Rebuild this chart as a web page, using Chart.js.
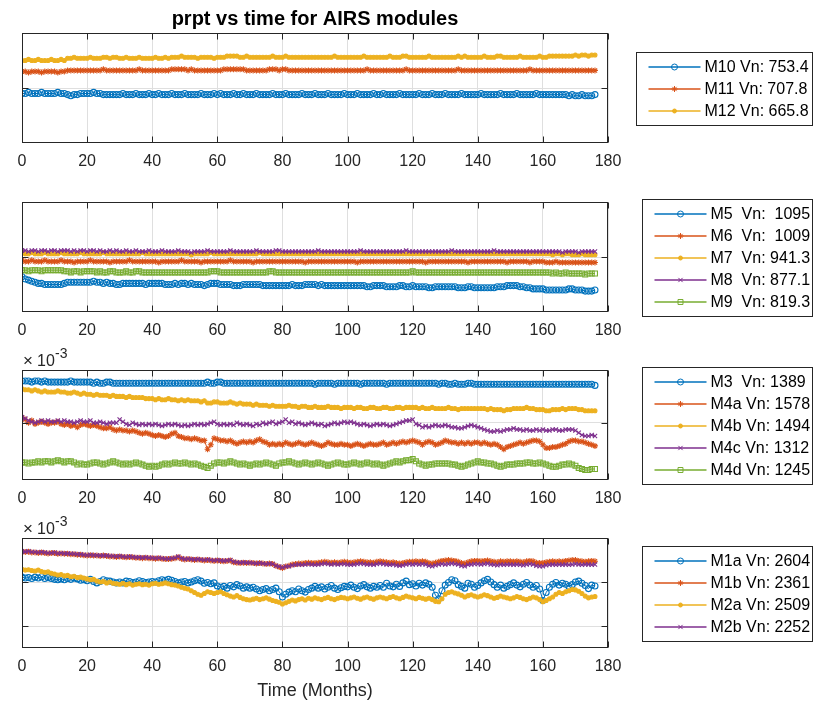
<!DOCTYPE html>
<html>
<head>
<meta charset="utf-8">
<title>prpt vs time for AIRS modules</title>
<script src="https://cdn.jsdelivr.net/npm/chart.js@4"></script>
<style>
  html, body { margin: 0; padding: 0; background: #fff; }
  #fig { position: relative; width: 815px; height: 704px; }
  #fig canvas { position: absolute; left: 0; top: 0; }
</style>
</head>
<body>
<div id="fig">
  <canvas id="p1" width="815" height="704"></canvas>
  <canvas id="p2" width="815" height="704"></canvas>
  <canvas id="p3" width="815" height="704"></canvas>
  <canvas id="p4" width="815" height="704"></canvas>
</div>
<script>
// Месяцы (ось X) и деления
const months = Array.from({ length: 177 }, (_, i) => i);
const xTicks = [0, 20, 40, 60, 80, 100, 120, 140, 160, 180];

// --- Панель 1: M10..M12 ---
const p1Names = ['M10 Vn: 753.4', 'M11 Vn: 707.8', 'M12 Vn: 665.8'];
const m10 = [
  0.95,0.95,0.96,0.95,0.95,0.95,0.96,0.95,0.95,0.95,
  0.95,0.96,0.95,0.95,0.94,0.93,0.94,0.94,0.95,0.95,
  0.95,0.95,0.96,0.95,0.95,0.94,0.94,0.94,0.94,0.94,
  0.94,0.95,0.94,0.94,0.94,0.95,0.94,0.94,0.94,0.95,
  0.94,0.94,0.95,0.94,0.94,0.94,0.95,0.94,0.94,0.94,
  0.95,0.94,0.94,0.94,0.94,0.95,0.94,0.94,0.94,0.95,
  0.94,0.95,0.94,0.94,0.94,0.95,0.94,0.94,0.95,0.94,
  0.94,0.94,0.95,0.94,0.94,0.94,0.94,0.95,0.94,0.94,
  0.94,0.95,0.94,0.94,0.94,0.94,0.95,0.94,0.94,0.94,
  0.95,0.94,0.94,0.94,0.95,0.94,0.94,0.94,0.94,0.95,
  0.94,0.94,0.94,0.95,0.94,0.94,0.94,0.94,0.95,0.94,
  0.94,0.95,0.94,0.94,0.94,0.94,0.95,0.94,0.94,0.94,
  0.94,0.94,0.95,0.94,0.94,0.94,0.95,0.94,0.94,0.94,
  0.95,0.94,0.94,0.94,0.94,0.95,0.94,0.94,0.94,0.94,
  0.94,0.95,0.94,0.94,0.94,0.94,0.94,0.95,0.94,0.94,
  0.94,0.94,0.95,0.94,0.94,0.94,0.94,0.94,0.95,0.94,
  0.94,0.94,0.94,0.94,0.94,0.94,0.94,0.94,0.93,0.94,
  0.93,0.93,0.94,0.93,0.93,0.93,0.94];
const m11 = [
  1.15,1.15,1.14,1.15,1.15,1.15,1.14,1.15,1.15,1.15,
  1.15,1.14,1.15,1.15,1.16,1.16,1.16,1.16,1.16,1.16,
  1.16,1.16,1.16,1.16,1.16,1.17,1.16,1.16,1.16,1.16,
  1.16,1.16,1.16,1.16,1.16,1.16,1.17,1.16,1.16,1.16,
  1.16,1.16,1.16,1.16,1.16,1.16,1.17,1.17,1.17,1.17,
  1.17,1.16,1.17,1.16,1.16,1.16,1.16,1.16,1.16,1.16,
  1.16,1.16,1.17,1.17,1.17,1.17,1.17,1.17,1.17,1.16,
  1.16,1.16,1.16,1.16,1.16,1.16,1.17,1.17,1.17,1.16,
  1.17,1.17,1.16,1.16,1.16,1.16,1.16,1.16,1.16,1.16,
  1.16,1.16,1.16,1.16,1.16,1.16,1.16,1.16,1.16,1.16,
  1.16,1.16,1.16,1.16,1.16,1.16,1.17,1.16,1.16,1.16,
  1.16,1.16,1.16,1.16,1.16,1.16,1.16,1.16,1.17,1.16,
  1.16,1.16,1.16,1.16,1.16,1.16,1.16,1.16,1.16,1.16,
  1.16,1.16,1.16,1.16,1.17,1.16,1.16,1.16,1.16,1.16,
  1.16,1.16,1.16,1.16,1.16,1.16,1.16,1.16,1.16,1.16,
  1.16,1.16,1.16,1.16,1.16,1.16,1.17,1.16,1.16,1.16,
  1.16,1.16,1.16,1.16,1.16,1.16,1.16,1.16,1.16,1.16,
  1.16,1.16,1.16,1.16,1.16,1.16,1.16];
const m12 = [
  1.25,1.25,1.26,1.25,1.25,1.26,1.25,1.25,1.25,1.26,
  1.25,1.25,1.26,1.25,1.27,1.27,1.28,1.27,1.27,1.27,
  1.27,1.28,1.27,1.27,1.27,1.28,1.28,1.27,1.28,1.28,
  1.27,1.27,1.28,1.27,1.27,1.27,1.28,1.27,1.27,1.27,
  1.27,1.28,1.27,1.27,1.28,1.27,1.28,1.28,1.28,1.29,
  1.28,1.28,1.28,1.28,1.27,1.28,1.28,1.28,1.28,1.27,
  1.28,1.28,1.28,1.29,1.29,1.29,1.29,1.28,1.28,1.29,
  1.28,1.28,1.28,1.28,1.28,1.28,1.28,1.29,1.28,1.28,
  1.28,1.29,1.28,1.28,1.28,1.28,1.28,1.28,1.28,1.28,
  1.28,1.28,1.28,1.28,1.28,1.28,1.29,1.28,1.28,1.28,
  1.28,1.28,1.28,1.28,1.28,1.29,1.28,1.28,1.28,1.28,
  1.28,1.28,1.28,1.29,1.28,1.28,1.28,1.29,1.29,1.28,
  1.28,1.28,1.28,1.28,1.28,1.29,1.28,1.28,1.28,1.28,
  1.28,1.28,1.28,1.28,1.29,1.28,1.29,1.28,1.28,1.28,
  1.28,1.28,1.29,1.28,1.28,1.28,1.29,1.29,1.28,1.28,
  1.28,1.28,1.28,1.29,1.28,1.28,1.28,1.28,1.28,1.29,
  1.28,1.28,1.29,1.29,1.29,1.29,1.29,1.29,1.29,1.29,
  1.30,1.29,1.30,1.30,1.29,1.30,1.30];

// --- Панель 2: M5..M9 ---
const p2Names = ['M5  Vn:  1095', 'M6  Vn:  1009', 'M7  Vn: 941.3', 'M8  Vn: 877.1', 'M9  Vn: 819.3'];
const m5 = [
  0.82,0.80,0.79,0.78,0.77,0.76,0.76,0.75,0.75,0.75,
  0.75,0.75,0.75,0.76,0.77,0.77,0.77,0.77,0.77,0.77,
  0.77,0.77,0.78,0.77,0.77,0.76,0.77,0.76,0.76,0.75,
  0.75,0.76,0.76,0.76,0.76,0.76,0.76,0.76,0.75,0.76,
  0.76,0.76,0.76,0.76,0.75,0.75,0.75,0.76,0.75,0.76,
  0.76,0.75,0.76,0.75,0.75,0.75,0.74,0.75,0.76,0.76,
  0.76,0.75,0.75,0.75,0.75,0.74,0.74,0.74,0.75,0.75,
  0.75,0.75,0.75,0.75,0.74,0.74,0.74,0.74,0.74,0.74,
  0.74,0.74,0.74,0.75,0.74,0.74,0.74,0.75,0.75,0.75,
  0.75,0.74,0.75,0.74,0.74,0.74,0.74,0.74,0.74,0.74,
  0.74,0.74,0.74,0.74,0.74,0.74,0.73,0.73,0.74,0.74,
  0.74,0.74,0.73,0.73,0.73,0.73,0.74,0.74,0.73,0.73,
  0.74,0.73,0.73,0.73,0.73,0.72,0.72,0.73,0.73,0.73,
  0.73,0.73,0.73,0.73,0.72,0.72,0.72,0.73,0.73,0.72,
  0.72,0.72,0.72,0.72,0.72,0.72,0.73,0.73,0.73,0.74,
  0.74,0.74,0.74,0.73,0.73,0.72,0.72,0.71,0.71,0.71,
  0.71,0.70,0.70,0.70,0.70,0.70,0.70,0.70,0.71,0.71,
  0.70,0.70,0.70,0.69,0.69,0.69,0.70];
const m6 = [
  0.97,0.96,0.96,0.97,0.96,0.96,0.96,0.97,0.96,0.96,
  0.96,0.96,0.97,0.96,0.96,0.96,0.95,0.96,0.96,0.96,
  0.96,0.97,0.96,0.96,0.96,0.96,0.96,0.95,0.96,0.96,
  0.96,0.96,0.96,0.97,0.96,0.96,0.96,0.96,0.96,0.96,
  0.96,0.96,0.95,0.96,0.96,0.96,0.96,0.96,0.96,0.97,
  0.96,0.96,0.96,0.96,0.96,0.95,0.96,0.96,0.96,0.96,
  0.96,0.96,0.96,0.96,0.97,0.96,0.96,0.96,0.96,0.96,
  0.96,0.95,0.96,0.96,0.96,0.96,0.96,0.96,0.96,0.96,
  0.96,0.96,0.96,0.96,0.96,0.96,0.96,0.95,0.96,0.96,
  0.96,0.96,0.96,0.96,0.96,0.96,0.96,0.96,0.96,0.96,
  0.96,0.96,0.96,0.95,0.96,0.96,0.96,0.96,0.96,0.96,
  0.96,0.96,0.96,0.96,0.96,0.96,0.96,0.96,0.96,0.96,
  0.96,0.96,0.96,0.96,0.95,0.96,0.96,0.96,0.96,0.96,
  0.96,0.96,0.96,0.96,0.96,0.96,0.96,0.95,0.96,0.96,
  0.96,0.96,0.96,0.96,0.96,0.96,0.96,0.96,0.96,0.95,
  0.96,0.96,0.96,0.96,0.96,0.96,0.95,0.96,0.96,0.96,
  0.96,0.95,0.95,0.95,0.96,0.95,0.95,0.95,0.95,0.95,
  0.95,0.95,0.95,0.95,0.95,0.95,0.95];
const m7 = [
  1.04,1.03,1.03,1.04,1.03,1.03,1.03,1.04,1.03,1.03,
  1.03,1.03,1.04,1.03,1.03,1.03,1.03,1.03,1.04,1.03,
  1.03,1.03,1.03,1.03,1.03,1.04,1.03,1.03,1.03,1.03,
  1.03,1.03,1.03,1.03,1.03,1.03,1.03,1.04,1.03,1.03,
  1.03,1.03,1.03,1.03,1.03,1.03,1.03,1.03,1.03,1.03,
  1.03,1.03,1.02,1.03,1.03,1.03,1.03,1.03,1.04,1.03,
  1.03,1.03,1.03,1.03,1.03,1.03,1.03,1.03,1.03,1.03,
  1.03,1.03,1.03,1.04,1.03,1.03,1.03,1.03,1.03,1.03,
  1.03,1.03,1.03,1.03,1.03,1.03,1.03,1.03,1.03,1.03,
  1.03,1.03,1.03,1.03,1.03,1.03,1.03,1.03,1.03,1.03,
  1.03,1.03,1.03,1.03,1.03,1.03,1.03,1.03,1.03,1.03,
  1.03,1.03,1.03,1.03,1.03,1.03,1.03,1.03,1.03,1.03,
  1.03,1.03,1.03,1.03,1.03,1.03,1.03,1.03,1.03,1.03,
  1.03,1.03,1.03,1.03,1.03,1.03,1.03,1.03,1.03,1.03,
  1.03,1.03,1.03,1.03,1.03,1.03,1.03,1.03,1.03,1.03,
  1.03,1.03,1.03,1.03,1.03,1.03,1.03,1.03,1.03,1.03,
  1.03,1.03,1.03,1.02,1.03,1.03,1.02,1.03,1.03,1.02,
  1.02,1.02,1.03,1.02,1.02,1.02,1.02];
const m8 = [
  1.06,1.06,1.05,1.06,1.06,1.05,1.06,1.06,1.05,1.06,
  1.06,1.05,1.06,1.06,1.06,1.05,1.06,1.05,1.06,1.06,
  1.05,1.06,1.06,1.05,1.06,1.05,1.05,1.06,1.05,1.06,
  1.05,1.05,1.06,1.05,1.05,1.06,1.05,1.05,1.05,1.06,
  1.05,1.05,1.05,1.06,1.05,1.05,1.05,1.05,1.06,1.05,
  1.05,1.05,1.04,1.05,1.05,1.05,1.05,1.06,1.05,1.05,
  1.05,1.05,1.05,1.05,1.06,1.05,1.05,1.05,1.05,1.05,
  1.05,1.05,1.06,1.05,1.05,1.05,1.05,1.05,1.06,1.06,
  1.05,1.05,1.05,1.05,1.05,1.05,1.05,1.05,1.05,1.05,
  1.05,1.06,1.05,1.05,1.05,1.05,1.05,1.05,1.05,1.05,
  1.05,1.05,1.05,1.05,1.06,1.05,1.05,1.05,1.05,1.05,
  1.05,1.05,1.05,1.05,1.05,1.05,1.05,1.05,1.06,1.05,
  1.05,1.05,1.05,1.05,1.05,1.05,1.05,1.05,1.05,1.05,
  1.05,1.05,1.06,1.05,1.05,1.05,1.05,1.05,1.05,1.05,
  1.05,1.05,1.05,1.05,1.05,1.06,1.05,1.05,1.05,1.05,
  1.05,1.05,1.05,1.05,1.05,1.05,1.05,1.05,1.05,1.05,
  1.05,1.05,1.05,1.05,1.05,1.05,1.04,1.05,1.05,1.05,
  1.05,1.04,1.05,1.05,1.05,1.05,1.05];
const m9 = [
  0.88,0.88,0.87,0.88,0.88,0.88,0.87,0.88,0.88,0.88,
  0.88,0.88,0.88,0.87,0.87,0.86,0.87,0.87,0.86,0.87,
  0.87,0.87,0.87,0.86,0.87,0.86,0.86,0.87,0.87,0.86,
  0.86,0.86,0.87,0.86,0.86,0.87,0.87,0.86,0.86,0.86,
  0.86,0.86,0.86,0.86,0.86,0.86,0.86,0.86,0.86,0.86,
  0.86,0.86,0.86,0.86,0.86,0.86,0.86,0.86,0.87,0.87,
  0.87,0.86,0.86,0.86,0.86,0.86,0.86,0.86,0.86,0.86,
  0.86,0.86,0.86,0.86,0.86,0.86,0.87,0.87,0.86,0.86,
  0.86,0.86,0.86,0.86,0.86,0.86,0.86,0.86,0.86,0.86,
  0.86,0.86,0.86,0.86,0.86,0.86,0.86,0.86,0.86,0.86,
  0.86,0.86,0.86,0.86,0.86,0.86,0.86,0.86,0.86,0.86,
  0.86,0.86,0.86,0.86,0.86,0.86,0.86,0.86,0.86,0.86,
  0.87,0.86,0.86,0.86,0.86,0.86,0.86,0.86,0.86,0.86,
  0.86,0.86,0.86,0.86,0.86,0.86,0.86,0.86,0.86,0.86,
  0.86,0.86,0.86,0.86,0.86,0.86,0.86,0.86,0.86,0.86,
  0.86,0.86,0.86,0.86,0.86,0.86,0.86,0.86,0.86,0.86,
  0.86,0.86,0.86,0.85,0.86,0.85,0.85,0.86,0.85,0.85,
  0.85,0.85,0.85,0.84,0.85,0.85,0.85];

// --- Панель 3: M3, M4a..M4d (x10^-3) ---
const p3Names = ['M3  Vn: 1389', 'M4a Vn: 1578', 'M4b Vn: 1494', 'M4c Vn: 1312', 'M4d Vn: 1245'];
const m3 = [
  1.38,1.38,1.38,1.37,1.38,1.38,1.37,1.38,1.37,1.37,
  1.37,1.37,1.37,1.37,1.37,1.38,1.37,1.37,1.37,1.37,
  1.37,1.37,1.36,1.37,1.36,1.36,1.37,1.37,1.36,1.36,
  1.36,1.36,1.36,1.36,1.36,1.36,1.36,1.36,1.36,1.36,
  1.36,1.36,1.36,1.36,1.36,1.36,1.36,1.36,1.36,1.36,
  1.36,1.36,1.36,1.36,1.36,1.36,1.36,1.37,1.36,1.36,
  1.37,1.37,1.36,1.36,1.36,1.36,1.36,1.36,1.36,1.36,
  1.36,1.36,1.36,1.36,1.36,1.36,1.36,1.36,1.36,1.36,
  1.36,1.36,1.36,1.36,1.36,1.36,1.36,1.36,1.36,1.36,
  1.35,1.36,1.36,1.36,1.36,1.36,1.35,1.36,1.36,1.36,
  1.36,1.36,1.36,1.36,1.35,1.36,1.36,1.36,1.36,1.36,
  1.36,1.36,1.35,1.36,1.36,1.36,1.36,1.36,1.36,1.36,
  1.36,1.36,1.36,1.36,1.36,1.36,1.36,1.36,1.35,1.36,
  1.36,1.35,1.35,1.36,1.35,1.35,1.35,1.36,1.36,1.35,
  1.35,1.35,1.35,1.35,1.35,1.35,1.35,1.35,1.35,1.35,
  1.35,1.35,1.35,1.35,1.35,1.35,1.35,1.35,1.35,1.35,
  1.35,1.35,1.35,1.35,1.35,1.35,1.35,1.35,1.35,1.35,
  1.35,1.35,1.35,1.35,1.35,1.35,1.34];
const m4a = [
  1.05,1.03,1.00,1.02,0.99,1.00,1.01,1.00,0.99,1.00,
  1.00,1.01,0.99,0.98,0.99,0.97,0.98,0.96,0.98,0.99,
  0.98,0.97,0.98,0.97,0.96,0.95,0.95,0.96,0.94,0.93,
  0.94,0.93,0.93,0.92,0.93,0.92,0.91,0.90,0.91,0.90,
  0.89,0.88,0.89,0.88,0.87,0.88,0.90,0.91,0.88,0.87,
  0.86,0.86,0.85,0.86,0.85,0.84,0.84,0.76,0.80,0.86,
  0.85,0.84,0.84,0.83,0.84,0.82,0.81,0.82,0.83,0.82,
  0.83,0.82,0.84,0.85,0.83,0.82,0.80,0.81,0.80,0.81,
  0.80,0.82,0.81,0.80,0.81,0.82,0.81,0.80,0.81,0.82,
  0.81,0.80,0.79,0.80,0.82,0.81,0.80,0.80,0.81,0.80,
  0.80,0.79,0.80,0.81,0.80,0.79,0.80,0.81,0.80,0.80,
  0.81,0.82,0.80,0.81,0.82,0.81,0.82,0.83,0.82,0.83,
  0.84,0.83,0.82,0.80,0.82,0.83,0.82,0.80,0.81,0.82,
  0.84,0.83,0.82,0.82,0.81,0.82,0.81,0.82,0.81,0.82,
  0.82,0.81,0.82,0.81,0.80,0.81,0.80,0.78,0.76,0.78,
  0.79,0.80,0.81,0.82,0.81,0.82,0.83,0.84,0.84,0.83,
  0.80,0.77,0.77,0.78,0.78,0.79,0.80,0.81,0.83,0.84,
  0.84,0.83,0.83,0.82,0.81,0.80,0.79];
const m4b = [
  1.31,1.30,1.30,1.29,1.30,1.29,1.28,1.29,1.28,1.28,
  1.28,1.29,1.28,1.28,1.27,1.27,1.28,1.27,1.26,1.27,
  1.26,1.26,1.25,1.26,1.25,1.25,1.25,1.24,1.25,1.24,
  1.24,1.24,1.23,1.24,1.23,1.23,1.23,1.23,1.22,1.22,
  1.22,1.21,1.22,1.21,1.21,1.22,1.21,1.21,1.20,1.21,
  1.20,1.21,1.20,1.20,1.20,1.19,1.20,1.18,1.18,1.19,
  1.19,1.18,1.18,1.18,1.19,1.18,1.17,1.18,1.17,1.17,
  1.17,1.16,1.17,1.16,1.16,1.16,1.15,1.16,1.15,1.15,
  1.15,1.15,1.16,1.15,1.15,1.14,1.15,1.15,1.14,1.14,
  1.15,1.14,1.14,1.14,1.15,1.14,1.14,1.14,1.13,1.14,
  1.14,1.14,1.13,1.14,1.14,1.13,1.13,1.14,1.14,1.13,
  1.13,1.14,1.14,1.13,1.13,1.14,1.14,1.13,1.14,1.14,
  1.14,1.14,1.13,1.14,1.13,1.13,1.14,1.13,1.13,1.13,
  1.13,1.14,1.13,1.13,1.12,1.13,1.13,1.13,1.13,1.13,
  1.13,1.13,1.13,1.12,1.13,1.12,1.12,1.12,1.11,1.12,
  1.12,1.13,1.13,1.13,1.13,1.14,1.13,1.13,1.12,1.12,
  1.12,1.11,1.11,1.12,1.12,1.12,1.13,1.12,1.13,1.13,
  1.13,1.12,1.12,1.11,1.11,1.11,1.11];
const m4c = [
  1.05,1.04,1.02,1.01,1.00,1.01,1.02,1.01,1.02,1.01,
  1.01,1.02,1.01,1.02,1.01,1.01,1.00,1.01,1.02,1.01,
  1.01,1.02,1.00,1.00,1.01,1.00,0.99,1.00,1.00,1.00,
  1.03,1.01,0.99,0.98,1.00,0.99,0.98,0.99,0.98,0.99,
  0.98,0.99,0.98,0.97,0.98,0.99,0.98,0.99,0.98,0.97,
  0.98,0.97,0.98,0.99,0.98,0.99,0.98,0.99,1.00,1.01,
  0.99,0.98,0.99,0.98,0.99,0.98,1.00,0.99,0.98,0.99,
  0.98,0.97,0.99,0.98,1.00,0.99,1.00,1.01,0.99,1.00,
  1.01,1.03,1.00,1.01,0.99,1.00,0.99,0.98,0.99,1.00,
  0.99,0.98,0.99,0.97,0.98,0.99,1.00,0.99,1.00,1.01,
  1.00,1.01,1.00,0.99,0.98,0.99,0.98,0.97,0.98,0.99,
  0.98,0.99,0.98,0.97,0.98,0.99,1.00,1.01,1.02,1.02,
  1.03,0.99,0.98,0.96,0.97,0.96,0.97,0.98,0.97,0.97,
  0.98,0.97,0.96,0.96,0.95,0.95,0.96,0.97,0.98,0.97,
  0.96,0.95,0.94,0.93,0.92,0.92,0.93,0.92,0.93,0.94,
  0.94,0.95,0.94,0.94,0.93,0.94,0.93,0.93,0.94,0.93,
  0.94,0.93,0.93,0.94,0.94,0.93,0.93,0.94,0.94,0.94,
  0.93,0.91,0.89,0.88,0.88,0.89,0.88];
const m4d = [
  0.64,0.64,0.63,0.64,0.64,0.65,0.64,0.65,0.65,0.64,
  0.65,0.66,0.65,0.64,0.65,0.65,0.64,0.62,0.63,0.62,
  0.62,0.63,0.64,0.64,0.63,0.62,0.63,0.64,0.65,0.64,
  0.63,0.62,0.63,0.62,0.63,0.64,0.63,0.62,0.61,0.60,
  0.61,0.60,0.61,0.62,0.63,0.62,0.63,0.64,0.63,0.63,
  0.64,0.63,0.62,0.63,0.62,0.61,0.60,0.59,0.61,0.63,
  0.64,0.64,0.63,0.64,0.65,0.64,0.63,0.62,0.63,0.62,
  0.61,0.62,0.63,0.62,0.63,0.64,0.63,0.62,0.61,0.63,
  0.64,0.64,0.65,0.64,0.63,0.62,0.63,0.64,0.63,0.62,
  0.63,0.64,0.63,0.62,0.61,0.62,0.63,0.64,0.63,0.62,
  0.62,0.63,0.64,0.63,0.62,0.63,0.64,0.63,0.62,0.63,
  0.62,0.61,0.62,0.63,0.64,0.65,0.64,0.65,0.66,0.66,
  0.67,0.65,0.63,0.62,0.61,0.62,0.62,0.63,0.63,0.63,
  0.63,0.63,0.62,0.62,0.61,0.60,0.61,0.62,0.63,0.64,
  0.65,0.64,0.64,0.63,0.63,0.62,0.61,0.60,0.61,0.62,
  0.62,0.62,0.63,0.63,0.63,0.64,0.64,0.63,0.63,0.64,
  0.63,0.62,0.61,0.60,0.60,0.61,0.62,0.62,0.63,0.62,
  0.61,0.59,0.58,0.57,0.57,0.58,0.58];

// --- Панель 4: M1a, M1b, M2a, M2b (x10^-3) ---
const p4Names = ['M1a Vn: 2604', 'M1b Vn: 2361', 'M2a Vn: 2509', 'M2b Vn: 2252'];
const m1a = [
  3.11,3.09,3.10,3.08,3.11,3.09,3.12,3.08,3.10,3.08,
  3.06,3.05,3.07,3.05,3.08,3.06,3.09,3.07,3.04,3.05,
  3.03,3.06,3.01,2.98,3.01,3.05,3.03,3.02,3.00,2.98,
  3.00,2.98,3.02,3.01,2.99,3.00,3.03,3.01,2.99,3.00,
  3.01,3.00,3.03,3.05,3.04,3.06,3.04,3.01,2.98,3.00,
  3.01,2.98,3.00,3.03,3.05,3.02,2.97,2.99,2.96,2.98,
  2.91,2.88,2.90,2.86,2.92,2.89,2.94,2.91,2.86,2.89,
  2.86,2.88,2.84,2.80,2.83,2.85,2.80,2.83,2.86,2.78,
  2.66,2.72,2.77,2.80,2.78,2.84,2.80,2.77,2.83,2.86,
  2.90,2.86,2.89,2.84,2.88,2.92,2.86,2.83,2.87,2.90,
  2.89,2.93,2.88,2.85,2.91,2.94,2.89,2.86,2.90,2.88,
  2.92,2.88,2.97,2.91,2.89,2.95,2.90,2.98,3.02,2.94,
  2.96,2.91,2.97,2.93,2.98,2.95,2.88,2.70,2.62,2.80,
  2.93,2.99,3.05,3.03,2.94,2.90,2.86,2.97,2.95,2.88,
  2.92,2.98,3.03,3.06,3.00,2.94,2.88,2.93,2.86,2.90,
  2.94,2.98,2.93,2.89,2.95,2.99,2.93,2.88,2.92,2.84,
  2.58,2.76,2.88,2.95,2.99,2.93,2.97,2.95,2.90,2.94,
  3.00,3.02,2.97,2.92,2.85,2.93,2.91];
const m1b = [
  3.69,3.68,3.69,3.67,3.67,3.66,3.67,3.66,3.65,3.66,
  3.66,3.64,3.65,3.64,3.64,3.63,3.63,3.62,3.62,3.61,
  3.60,3.61,3.60,3.60,3.59,3.60,3.59,3.58,3.58,3.57,
  3.58,3.57,3.56,3.57,3.56,3.55,3.55,3.54,3.55,3.54,
  3.54,3.53,3.54,3.53,3.52,3.52,3.53,3.54,3.56,3.53,
  3.51,3.52,3.51,3.50,3.51,3.50,3.49,3.50,3.49,3.48,
  3.49,3.48,3.47,3.48,3.49,3.45,3.44,3.43,3.44,3.43,
  3.44,3.43,3.42,3.43,3.42,3.41,3.42,3.41,3.37,3.34,
  3.32,3.35,3.37,3.40,3.41,3.42,3.42,3.43,3.44,3.43,
  3.43,3.44,3.45,3.46,3.45,3.44,3.45,3.44,3.45,3.46,
  3.45,3.44,3.45,3.46,3.47,3.46,3.45,3.45,3.44,3.46,
  3.47,3.46,3.45,3.44,3.45,3.43,3.42,3.43,3.45,3.46,
  3.46,3.47,3.46,3.47,3.46,3.43,3.42,3.44,3.46,3.48,
  3.49,3.50,3.49,3.48,3.46,3.43,3.42,3.45,3.47,3.48,
  3.48,3.47,3.48,3.49,3.47,3.46,3.45,3.47,3.46,3.47,
  3.47,3.46,3.47,3.46,3.45,3.47,3.48,3.47,3.44,3.43,
  3.43,3.45,3.46,3.47,3.46,3.47,3.46,3.48,3.49,3.50,
  3.50,3.48,3.47,3.46,3.47,3.48,3.47];
const m2a = [
  3.29,3.27,3.28,3.26,3.25,3.27,3.24,3.22,3.23,3.20,
  3.18,3.16,3.17,3.14,3.15,3.12,3.13,3.10,3.11,3.09,
  3.07,3.05,3.06,3.02,3.00,3.01,2.98,3.00,2.97,2.96,
  2.95,2.97,2.94,2.96,2.93,2.95,2.96,2.94,2.95,2.93,
  2.96,2.97,2.95,2.96,2.98,2.96,2.94,2.93,2.91,2.88,
  2.86,2.84,2.80,2.76,2.72,2.70,2.74,2.78,2.76,2.74,
  2.76,2.78,2.74,2.71,2.68,2.66,2.69,2.65,2.62,2.60,
  2.59,2.61,2.63,2.60,2.62,2.64,2.61,2.58,2.56,2.54,
  2.50,2.53,2.56,2.59,2.57,2.60,2.62,2.59,2.63,2.61,
  2.64,2.62,2.60,2.63,2.65,2.62,2.60,2.63,2.65,2.64,
  2.62,2.64,2.66,2.63,2.61,2.64,2.66,2.63,2.61,2.64,
  2.66,2.64,2.62,2.65,2.67,2.64,2.62,2.65,2.68,2.66,
  2.64,2.62,2.65,2.63,2.61,2.63,2.60,2.56,2.55,2.62,
  2.72,2.76,2.78,2.75,2.73,2.70,2.66,2.69,2.71,2.68,
  2.66,2.68,2.71,2.69,2.66,2.63,2.65,2.68,2.66,2.64,
  2.62,2.64,2.67,2.65,2.62,2.60,2.63,2.66,2.64,2.60,
  2.55,2.58,2.62,2.66,2.72,2.76,2.74,2.78,2.80,2.83,
  2.82,2.79,2.74,2.68,2.64,2.66,2.67];
const m2b = [
  3.70,3.69,3.70,3.68,3.68,3.67,3.68,3.67,3.66,3.66,
  3.67,3.65,3.66,3.65,3.65,3.64,3.64,3.63,3.63,3.62,
  3.61,3.62,3.61,3.61,3.60,3.60,3.60,3.59,3.59,3.58,
  3.59,3.58,3.57,3.58,3.57,3.56,3.56,3.55,3.56,3.55,
  3.55,3.54,3.55,3.54,3.53,3.53,3.54,3.55,3.58,3.54,
  3.52,3.53,3.52,3.51,3.52,3.51,3.50,3.51,3.50,3.49,
  3.50,3.49,3.48,3.49,3.50,3.46,3.45,3.44,3.45,3.44,
  3.44,3.43,3.42,3.43,3.42,3.41,3.42,3.41,3.37,3.35,
  3.33,3.35,3.36,3.38,3.39,3.40,3.39,3.40,3.41,3.40,
  3.39,3.40,3.41,3.42,3.41,3.40,3.41,3.40,3.41,3.41,
  3.40,3.39,3.40,3.41,3.42,3.41,3.40,3.40,3.39,3.41,
  3.42,3.41,3.40,3.39,3.40,3.38,3.37,3.38,3.40,3.41,
  3.40,3.41,3.40,3.41,3.40,3.37,3.36,3.38,3.40,3.41,
  3.40,3.41,3.42,3.41,3.40,3.37,3.36,3.39,3.40,3.41,
  3.41,3.40,3.41,3.42,3.40,3.39,3.38,3.40,3.39,3.40,
  3.40,3.39,3.40,3.39,3.38,3.40,3.41,3.40,3.37,3.36,
  3.36,3.38,3.39,3.40,3.39,3.40,3.39,3.40,3.39,3.40,
  3.41,3.40,3.39,3.40,3.40,3.39,3.40];

// Цвета и маркеры линий (как в MATLAB: o, *, ., x, s)
const COLORS = ['#0072BD', '#D95319', '#EDB120', '#7E2F8E', '#77AC30'];
const MARKERS = [
  { style: 'circle', r: 3, fill: false },
  { style: 'star', r: 3, fill: false },
  { style: 'circle', r: 2, fill: true },
  { style: 'crossRot', r: 3, fill: false },
  { style: 'rect', r: 3.5, fill: false }
];

const FONT = '"Liberation Sans", Arial, Helvetica, sans-serif';
const FIG_W = 815, FIG_H = 704;
const AX_LEFT = 22, AX_RIGHT = 608, AX_H = 110;
const GRID = '#dfdfdf';
const INK = '#262626';

Chart.defaults.font.family = FONT;
Chart.defaults.color = INK;

// Рамка осей, внутренние засечки, заголовок, множитель x10^-3 и легенда справа
const matlabAxes = {
  id: 'matlabAxes',
  afterDatasetsDraw(chart, args, opts) {
    const { ctx, chartArea: a, scales: { x, y } } = chart;
    const L = Math.round(a.left) + 0.5, R = Math.round(a.right) - 0.5;
    const T = Math.round(a.top) + 0.5, B = Math.round(a.bottom) - 0.5;
    ctx.save();
    ctx.strokeStyle = INK;
    ctx.lineWidth = 1;
    ctx.strokeRect(L, T, R - L, B - T);
    ctx.beginPath();
    xTicks.forEach(v => {
      const px = Math.round(x.getPixelForValue(v)) + 0.5;
      ctx.moveTo(px, B); ctx.lineTo(px, B - 6);
      ctx.moveTo(px, T); ctx.lineTo(px, T + 6);
    });
    y.ticks.forEach(t => {
      const py = Math.round(y.getPixelForValue(t.value)) + 0.5;
      ctx.moveTo(L, py); ctx.lineTo(L + 6, py);
      ctx.moveTo(R, py); ctx.lineTo(R - 6, py);
    });
    ctx.stroke();

    // заголовок по центру осей
    if (opts.title) {
      ctx.fillStyle = '#000';
      ctx.font = 'bold 20px ' + FONT;
      ctx.textAlign = 'center';
      ctx.textBaseline = 'middle';
      ctx.fillText(opts.title, (a.left + a.right) / 2, 19);
      ctx.textAlign = 'left';
    }

    if (opts.exponent) {
      ctx.fillStyle = INK;
      ctx.textBaseline = 'alphabetic';
      const by = a.top - 4;
      ctx.font = '17px ' + FONT;
      ctx.fillText('\u00d7', a.left + 1, by);
      ctx.font = '16px ' + FONT;
      ctx.fillText('10', a.left + 15, by);
      ctx.font = '14px ' + FONT;
      ctx.fillText('-3', a.left + 33, by - 8);
    }
    ctx.restore();
  },
  afterDraw(chart, args, opts) {
    const { ctx, chartArea: a } = chart;
    const items = chart.data.datasets;
    const rowH = 22;
    const h = rowH * items.length + 7;
    const top = Math.round((a.top + a.bottom) / 2 - h / 2) + 0.5;
    const left = opts.legendLeft + 0.5, right = 812.5;
    ctx.save();
    ctx.fillStyle = '#fff';
    ctx.fillRect(left, top, right - left, h);
    ctx.strokeStyle = INK;
    ctx.lineWidth = 1;
    ctx.strokeRect(left, top, right - left, h);
    ctx.font = '16px ' + FONT;
    ctx.textBaseline = 'middle';
    items.forEach((ds, i) => {
      const cy = Math.round(top + 3.5 + rowH / 2 + rowH * i);
      ctx.strokeStyle = ds.borderColor;
      ctx.lineWidth = 1.5;
      ctx.beginPath();
      ctx.moveTo(left + 12, cy);
      ctx.lineTo(left + 64, cy);
      ctx.stroke();
      ctx.lineWidth = 1;
      ctx.fillStyle = ds.pointBackgroundColor;
      Chart.helpers.drawPoint(ctx, {
        pointStyle: ds.pointStyle, radius: ds.pointRadius, borderWidth: 1, rotation: 0
      }, left + 38, cy);
      ctx.fillStyle = '#000';
      ctx.fillText(ds.label, left + 68, cy + 1);
    });
    ctx.restore();
  }
};

function buildPanel(id, cfg) {
  const n = cfg.series.length;
  const datasets = cfg.series.map((values, k) => ({
    label: cfg.names[k],
    data: values.map((v, i) => ({ x: months[i], y: v })),
    borderColor: COLORS[k],
    borderWidth: 1,
    pointStyle: MARKERS[k].style,
    pointRadius: MARKERS[k].r,
    pointBorderWidth: 1.1,
    pointBorderColor: COLORS[k],
    pointBackgroundColor: MARKERS[k].fill ? COLORS[k] : 'rgba(0,0,0,0)',
    tension: 0,
    order: n - 1 - k // последняя линия рисуется поверх, как в MATLAB
  }));

  const bottomEdge = cfg.top + AX_H;
  const xH = cfg.xTitle ? FIG_H - bottomEdge : 40;

  return new Chart(document.getElementById(id), {
    type: 'line',
    data: { datasets },
    options: {
      responsive: false,
      animation: false,
      events: [],
      layout: {
        padding: {
          left: 0,
          right: FIG_W - AX_RIGHT,
          top: cfg.top,
          bottom: FIG_H - bottomEdge - xH
        }
      },
      plugins: {
        legend: { display: false },
        tooltip: { enabled: false },
        title: { display: false },
        matlabAxes: { legendLeft: cfg.legendLeft, exponent: cfg.exponent, title: cfg.title }
      },
      scales: {
        x: {
          type: 'linear',
          min: 0,
          max: 180,
          afterBuildTicks: s => { s.ticks = xTicks.map(v => ({ value: v })); },
          afterFit: s => { s.height = xH; },
          ticks: { font: { size: 16 }, color: INK, padding: 9, maxRotation: 0, autoSkip: false },
          grid: { color: GRID, drawTicks: false },
          border: { display: false },
          title: cfg.xTitle ? {
            display: true,
            text: cfg.xTitle,
            color: INK,
            font: { size: 18 },
            padding: { top: 0, bottom: 2 }
          } : { display: false }
        },
        y: {
          min: cfg.yMin,
          max: cfg.yMax,
          afterBuildTicks: s => { s.ticks = cfg.yTicks.map(v => ({ value: v })); },
          afterFit: s => { s.width = AX_LEFT; },
          ticks: { display: false },
          grid: { color: GRID, drawTicks: false },
          border: { display: false }
        }
      }
    },
    plugins: [matlabAxes]
  });
}

buildPanel('p1', {
  title: 'prpt vs time for AIRS modules',
  top: 33, legendLeft: 636,
  yMin: 0.5, yMax: 1.5, yTicks: [1],
  names: p1Names, series: [m10, m11, m12]
});
buildPanel('p2', {
  top: 202, legendLeft: 642,
  yMin: 0.5, yMax: 1.5, yTicks: [1],
  names: p2Names, series: [m5, m6, m7, m8, m9]
});
buildPanel('p3', {
  top: 370, legendLeft: 642, exponent: true,
  yMin: 0.48, yMax: 1.48, yTicks: [1],
  names: p3Names, series: [m3, m4a, m4b, m4c, m4d]
});
buildPanel('p4', {
  top: 538, legendLeft: 642, exponent: true,
  yMin: 1.5, yMax: 4, yTicks: [2, 3],
  names: p4Names, series: [m1a, m1b, m2a, m2b],
  xTitle: 'Time (Months)'
});
</script>
</body>
</html>
